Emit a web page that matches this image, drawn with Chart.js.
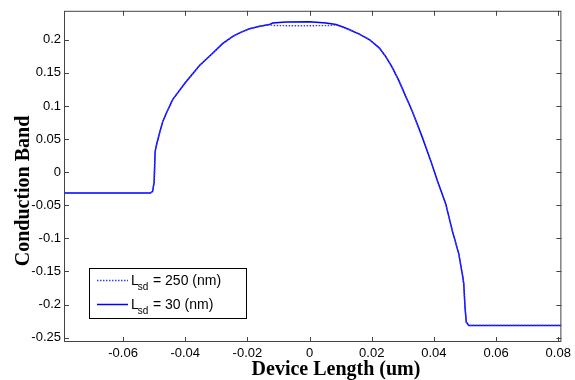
<!DOCTYPE html>
<html>
<head>
<meta charset="utf-8">
<script src="https://cdn.jsdelivr.net/npm/chart.js@4"></script>
<style>
  html, body { margin: 0; padding: 0; background: #fff; }
  #wrap { width: 575px; height: 380px; position: relative; }
</style>
</head>
<body>
<div id="wrap"><canvas id="bandChart"></canvas></div>
<script>
// device position (um) and conduction band values
const xPos = [-0.079, -0.0512, -0.0505, -0.0500, -0.0497, -0.0494, -0.0485, -0.0472, -0.0455, -0.044, -0.040,
  -0.0354, -0.0311, -0.028, -0.0247, -0.022, -0.0193, -0.016, -0.0129, -0.0119, -0.0076, 0, 0.0053,
  0.0085, 0.0105, 0.0127, 0.016, 0.0192, 0.0224, 0.0245, 0.0265, 0.0288, 0.0305, 0.033, 0.0363, 0.039,
  0.0411, 0.0438, 0.0459, 0.048, 0.0493, 0.0496, 0.0500, 0.0504, 0.0512, 0.081];
const band30 = [-0.0316, -0.0316, -0.029, -0.015, 0.030, 0.038, 0.055, 0.077, 0.095, 0.110, 0.135,
  0.161, 0.180, 0.194, 0.205, 0.2115, 0.2165, 0.2205, 0.2229, 0.2253, 0.2268, 0.227, 0.2253,
  0.2229, 0.2195, 0.2154, 0.2085, 0.2003, 0.1877, 0.1745, 0.159, 0.1375, 0.119, 0.0923, 0.0521, 0.017,
  -0.013, -0.048, -0.0884, -0.1235, -0.1587, -0.1687, -0.204, -0.2265, -0.2315, -0.2315];
const band250 = [-0.0316, -0.0316, -0.029, -0.015, 0.030, 0.038, 0.055, 0.077, 0.095, 0.110, 0.135,
  0.161, 0.180, 0.194, 0.205, 0.2115, 0.2165, 0.2205, 0.2229, 0.2215, 0.2212, 0.2212, 0.2213,
  0.2222, 0.2195, 0.2154, 0.2085, 0.2003, 0.1877, 0.1745, 0.159, 0.1375, 0.119, 0.0923, 0.0521, 0.017,
  -0.013, -0.048, -0.0884, -0.1235, -0.1587, -0.1687, -0.204, -0.2265, -0.2315, -0.2315];

const xTicks = [-0.06, -0.04, -0.02, 0, 0.02, 0.04, 0.06, 0.08];
const yTicks = [-0.25, -0.2, -0.15, -0.1, -0.05, 0, 0.05, 0.1, 0.15, 0.2];
const seriesNames = ['250', '30'];

const axisColor = '#444';
const tickFont = { family: 'Liberation Sans, Arial, sans-serif', size: 13 };

function toPoints(ys) {
  return xPos.map((x, i) => ({ x: x, y: ys[i] }));
}

function fmt(v) {
  return String(Math.round(v * 1000) / 1000);
}

// box, inward ticks, axis titles and legend, MATLAB style
const matlabFrame = {
  id: 'matlabFrame',
  afterDraw(chart) {
    const ctx = chart.ctx;
    const a = chart.chartArea;
    const xs = chart.scales.x;
    const ys = chart.scales.y;
    ctx.save();
    ctx.strokeStyle = axisColor;
    ctx.lineWidth = 1;
    ctx.strokeRect(a.left + 0.5, a.top + 0.5, a.right - a.left - 1, a.bottom - a.top - 1);
    ctx.beginPath();
    xTicks.forEach(v => {
      const px = Math.round(xs.getPixelForValue(v)) + 0.5;
      ctx.moveTo(px, a.bottom); ctx.lineTo(px, a.bottom - 5);
      ctx.moveTo(px, a.top); ctx.lineTo(px, a.top + 5);
    });
    yTicks.forEach(v => {
      const py = Math.round(ys.getPixelForValue(v)) + 0.5;
      ctx.moveTo(a.left, py); ctx.lineTo(a.left + 5, py);
      ctx.moveTo(a.right, py); ctx.lineTo(a.right - 5, py);
    });
    ctx.stroke();

    // axis titles
    ctx.fillStyle = '#000';
    ctx.font = 'bold 20px "Liberation Serif", "Times New Roman", serif';
    ctx.textAlign = 'center';
    ctx.textBaseline = 'alphabetic';
    ctx.fillText('Device Length (um)', 336, 375);
    ctx.save();
    ctx.translate(29, 191);
    ctx.rotate(-Math.PI / 2);
    ctx.fillText('Conduction Band', 0, 0);
    ctx.restore();

    // legend
    const lx = 89, ly = 268, lw = 157, lh = 50;
    ctx.fillStyle = '#fff';
    ctx.fillRect(lx, ly, lw, lh);
    ctx.strokeStyle = '#000';
    ctx.strokeRect(lx + 0.5, ly + 0.5, lw, lh);
    const rows = [280, 304];
    chart.data.datasets.forEach((ds, i) => {
      const y = rows[i];
      ctx.beginPath();
      ctx.strokeStyle = ds.borderColor;
      ctx.lineWidth = ds.borderWidth;
      ctx.setLineDash(ds.borderDash || []);
      ctx.moveTo(97, y + 0.5); ctx.lineTo(128, y + 0.5);
      ctx.stroke();
      ctx.setLineDash([]);
      ctx.fillStyle = '#000';
      ctx.textAlign = 'left';
      ctx.font = '14px "Liberation Sans", Arial, sans-serif';
      ctx.fillText('L', 131, y + 5);
      const lW = ctx.measureText('L').width;
      ctx.font = '10px "Liberation Sans", Arial, sans-serif';
      ctx.fillText('sd', 131 + lW - 1, y + 10);
      ctx.font = '14px "Liberation Sans", Arial, sans-serif';
      ctx.fillText('= ' + seriesNames[i] + ' (nm)', 153, y + 5);
    });
    ctx.restore();
  }
};

const chart = new Chart(document.getElementById('bandChart'), {
  type: 'line',
  data: {
    datasets: [{
      label: 'Lsd = 250 (nm)',
      data: toPoints(band250),
      borderColor: '#3a3aff',
      borderWidth: 1.4,
      borderDash: [1.5, 1.5],
      pointRadius: 0,
      tension: 0
    }, {
      label: 'Lsd = 30 (nm)',
      data: toPoints(band30),
      borderColor: '#0000ff',
      borderWidth: 1.5,
      pointRadius: 0,
      tension: 0
    }]
  },
  options: {
    responsive: true,
    maintainAspectRatio: false,
    animation: false,
    layout: { padding: { left: 0, top: 9, right: 12, bottom: 0 } },
    plugins: { legend: { display: false }, tooltip: { enabled: false } },
    scales: {
      x: {
        type: 'linear',
        min: -0.079,
        max: 0.081,
        grid: { display: false, drawTicks: false },
        border: { display: false },
        afterBuildTicks: s => { s.ticks = xTicks.map(v => ({ value: v })); },
        afterFit: s => { s.height = 38; },
        ticks: { font: tickFont, color: '#000', padding: 4, maxRotation: 0, autoSkip: false, callback: v => fmt(v) }
      },
      y: {
        type: 'linear',
        min: -0.2566,
        max: 0.2437,
        grid: { display: false, drawTicks: false },
        border: { display: false },
        afterBuildTicks: s => { s.ticks = yTicks.map(v => ({ value: v })); },
        afterFit: s => { s.width = 64; },
        ticks: { font: tickFont, color: '#000', padding: 3, autoSkip: false, callback: v => fmt(v) }
      }
    }
  },
  plugins: [matlabFrame]
});
</script>
</body>
</html>
